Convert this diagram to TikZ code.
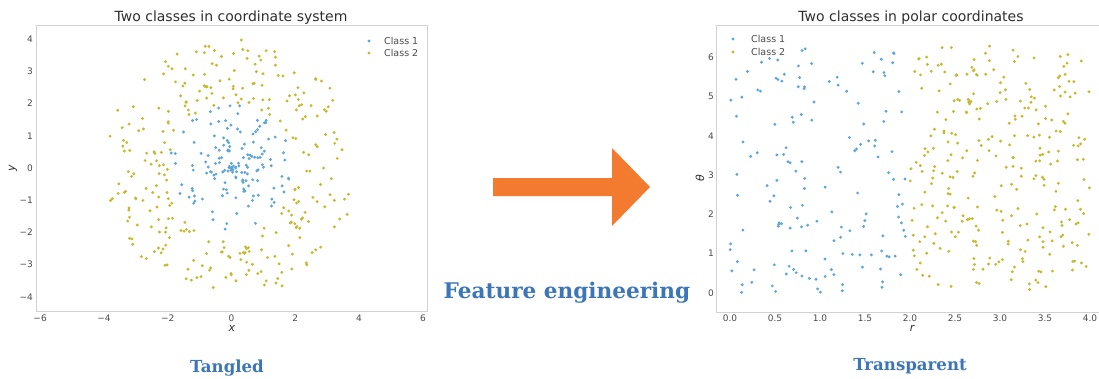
\documentclass[tikz,border=0pt]{standalone}
\usepackage{fontspec}
\setmainfont{DejaVu Sans}
\newfontfamily\bannerfont{DejaVu Serif}
\definecolor{classone}{HTML}{5FA6D8}
\definecolor{classtwo}{HTML}{C4BA2E}
\definecolor{framegray}{HTML}{D2D2D2}
\definecolor{labelgray}{HTML}{4A4A4A}
\definecolor{titlegray}{HTML}{2E2E2E}
\definecolor{bannerblue}{HTML}{3C76B8}
\definecolor{arroworange}{HTML}{F27B2F}
\tikzset{
  axisframe/.style={draw=framegray, line width=0.8pt},
  ticklab/.style={font=\fontsize{9}{10}\selectfont, text=labelgray, inner sep=0pt},
  ylab/.style={ticklab, anchor=east},
  axislab/.style={font=\fontsize{11}{12}\selectfont, text=titlegray, inner sep=0pt},
  plottitle/.style={font=\fontsize{14}{16}\selectfont, text=titlegray, inner sep=0pt},
  legendtext/.style={font=\fontsize{9.5}{10}\selectfont, text=labelgray, anchor=west, inner sep=0pt},
  banner/.style={font=\bannerfont\bfseries\fontsize{16.6}{19}\selectfont, text=bannerblue, inner sep=0pt},
  dotone/.style={fill=classone},
  dottwo/.style={fill=classtwo},
}
\begin{document}
\begin{tikzpicture}[x=1pt,y=-1pt]
\useasboundingbox (0,0) rectangle (1099,378);

% ---------- left panel: Cartesian view ----------
\draw[axisframe] (36,25) rectangle (427,311);
\node[plottitle] (ltitle) at (231,18) {Two classes in coordinate system};
\foreach \v/\t [count=\k] in {-6/−6,-4/−4,-2/−2,0/0,2/2,4/4,6/6}
  \node[ticklab] (lx\k) at ({231.5+31.9*\v},318) {\t};
\foreach \v/\t [count=\k] in {-4/−4,-3/−3,-2/−2,-1/−1,0/0,1/1,2/2,3/3,4/4}
  \node[ylab] (ly\k) at (33,{168-32.2*\v}) {\t};
\node[axislab] (lxlab) at (232,328) {\itshape x};
\node[axislab, rotate=90] (lylab) at (13,168) {\itshape y};

% ---------- right panel: polar view ----------
\draw[axisframe] (1099,25) -- (716,25) -- (716,312) -- (1099,312);
\node[plottitle] (rtitle) at (911,18) {Two classes in polar coordinates};
\foreach \v/\t [count=\k] in {0/0.0,0.5/0.5,1/1.0,1.5/1.5,2/2.0,2.5/2.5,3/3.0,3.5/3.5,4/4.0}
  \node[ticklab] (rx\k) at ({730+90*\v},318) {\t};
\foreach \v [count=\k] in {0,...,6}
  \node[ylab] (ry\k) at (714,{293-39.3*\v}) {\v};
\node[axislab] (rxlab) at (912,328) {\itshape r};
\node[axislab, rotate=90] (rylab) at (700,178) {\itshape θ};

% ---------- the two samples, drawn in both views ----------
\pgfmathsetseed{2718}
\foreach \i in {1,...,150}{
  \pgfmathsetmacro\myrad{1.95*rnd}
  \pgfmathsetmacro\myang{360*rnd}
  \pgfmathsetmacro\myrow{293-39.3*(\myang/57.29578)}
  \fill[dotone] ({231.5+31.9*\myrad*cos(\myang)},{168-32.2*\myrad*sin(\myang)}) circle (1.6pt);
  \fill[dotone] ({730+90*\myrad},\myrow) circle (1.6pt);
}
\foreach \i in {1,...,290}{
  \pgfmathsetmacro\myrad{2+2*rnd}
  \pgfmathsetmacro\myang{360*rnd}
  \pgfmathsetmacro\myrow{293-39.3*(\myang/57.29578)}
  \fill[dottwo] ({231.5+31.9*\myrad*cos(\myang)},{168-32.2*\myrad*sin(\myang)}) circle (1.6pt);
  \fill[dottwo] ({730+90*\myrad},\myrow) circle (1.6pt);
}

% ---------- legends ----------
\fill[dotone] (369,41) circle (1.6pt);
\fill[dottwo] (369,53) circle (1.6pt);
\node[legendtext] (lleg1) at (384,41) {Class 1};
\node[legendtext] (lleg2) at (384,53) {Class 2};
\fill[dotone] (733,39) circle (1.6pt);
\fill[dottwo] (733,52) circle (1.6pt);
\node[legendtext] (rleg1) at (751,39) {Class 1};
\node[legendtext] (rleg2) at (751,52) {Class 2};

% ---------- transformation arrow and captions ----------
\fill[arroworange] (493,178) -- (612,178) -- (612,148) -- (650,187)
  -- (612,226) -- (612,196) -- (493,196) -- cycle;
\node[banner, font=\bannerfont\bfseries\fontsize{21.6}{24}\selectfont] (fe) at (567,293) {Feature engineering};
\node[banner] (tangled) at (227,368) {Tangled};
\node[banner] (transp) at (910,366) {Transparent};
\end{tikzpicture}
\end{document}
